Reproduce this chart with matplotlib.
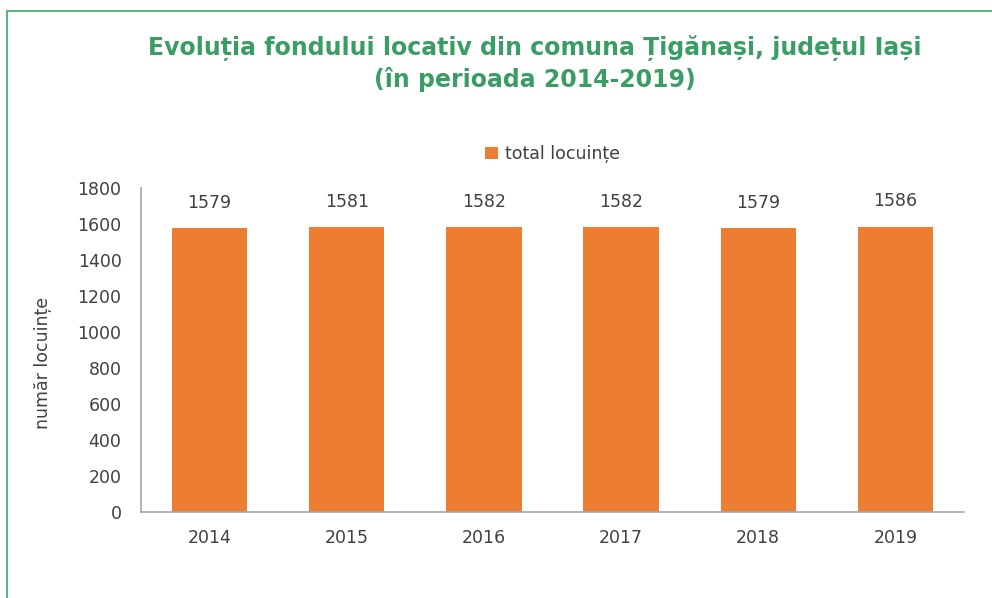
import matplotlib.pyplot as plt
from matplotlib.lines import Line2D

years = ['2014', '2015', '2016', '2017', '2018', '2019']
locuinte = [1579, 1581, 1582, 1582, 1579, 1586]
yticks = [0, 200, 400, 600, 800, 1000, 1200, 1400, 1600, 1800]

plt.rcParams['font.family'] = ['DejaVu Sans']
text_col = '#404040'
green = '#3A9E64'
orange = '#ED7D31'

fig = plt.figure(figsize=(9.92, 5.98), dpi=100)
ax = fig.add_axes([141 / 992, 1 - 512 / 598, 823 / 992, 324 / 598])

bars = ax.bar(years, locuinte, width=0.55, color=orange, label='total locuințe')
for b, v in zip(bars, locuinte):
    ax.text(b.get_x() + b.get_width() / 2, v + 90, str(v), ha='center', va='bottom',
            fontsize=12.5, color=text_col)

ax.set_ylim(0, 1800)
ax.set_xlim(-0.5, len(years) - 0.5)
ax.set_yticks(yticks)
ax.tick_params(axis='both', length=0, labelsize=12.5, colors=text_col)
ax.tick_params(axis='y', pad=14)
ax.tick_params(axis='x', pad=12)
for s in ['top', 'right']:
    ax.spines[s].set_visible(False)
for s in ['left', 'bottom']:
    ax.spines[s].set_color('#A6A6A6')
    ax.spines[s].set_linewidth(1.2)
ax.set_ylabel('număr locuințe', fontsize=12.5, color=text_col)
ax.yaxis.set_label_coords(-0.108, 0.46)

ax.legend(loc='lower center', bbox_to_anchor=(0.5, 1.03), frameon=False,
          fontsize=12.5, labelcolor=text_col, handlelength=0.7, handleheight=0.7,
          handletextpad=0.4)

fig.text(535 / 992, 1 - 48 / 598, 'Evoluția fondului locativ din comuna Țigănași, județul Iași',
         ha='center', va='center', fontsize=17, fontweight='bold', color=green)
fig.text(535 / 992, 1 - 80 / 598, '(în perioada 2014-2019)',
         ha='center', va='center', fontsize=17, fontweight='bold', color=green)

# chart frame (only top and left edges visible in the crop)
fig.add_artist(Line2D([6.5 / 992, 1], [1 - 10.5 / 598, 1 - 10.5 / 598], color='#5DB585', lw=1.5))
fig.add_artist(Line2D([6.5 / 992, 6.5 / 992], [0, 1 - 10.5 / 598], color='#5DB585', lw=1.5))

fig.savefig('out.png', dpi=100)
